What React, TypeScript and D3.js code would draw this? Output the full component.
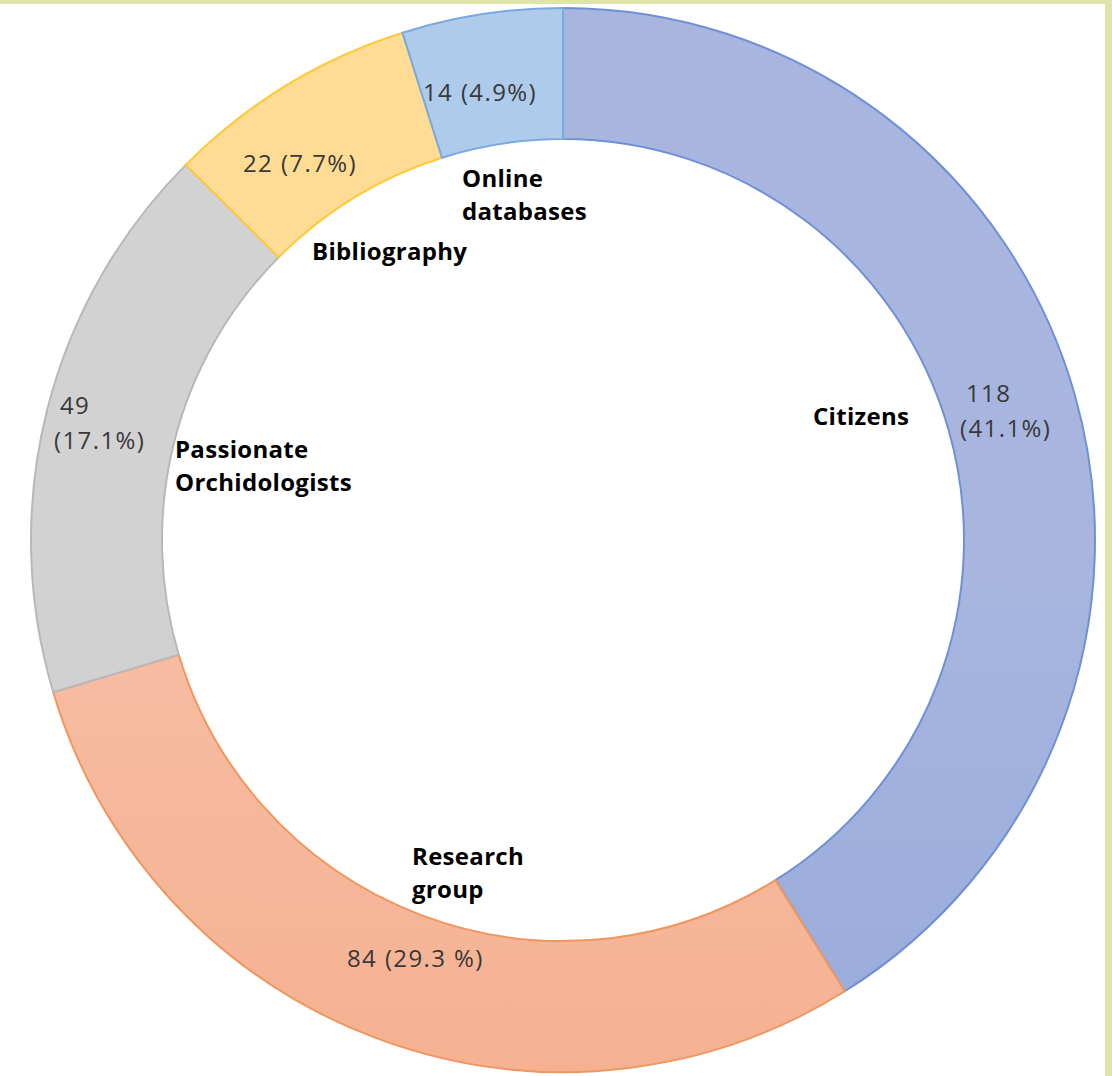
import React, { useEffect, useRef } from "react"
import * as d3 from "d3"

const WIDTH = 1112
const HEIGHT = 1076
const CX = 563
const CY = 540
const OUTER_R = 532
const INNER_R = 401

// data
const categories = ["Citizens", "Research group", "Passionate Orchidologists", "Bibliography", "Online databases"]
const counts = [118, 84, 49, 22, 14]
const percentLabels = ["41.1%", "29.3 %", "17.1%", "7.7%", "4.9%"]

// label layout (offsets from the donut centre, text-anchor start, baseline)
const nameLines = [["Citizens"], ["Research", "group"], ["Passionate", "Orchidologists"], ["Bibliography"], ["Online", "databases"]]
const nameAnchors = [[250, -115], [-151, 325], [-388, -82], [-251, -280], [-101, -353]]
const valueSplit = [true, false, true, false, false]
const valueAnchors = [[397, -138], [-216, 427], [-509, -126], [-320, -368], [-140, -439]]

const fills = [
  ["#a8b6df", "#8aa0d8"],
  ["#f6bea5", "#f4a57f"],
  ["#d2d2d2", "#c3c3c3"],
  ["#fedc94", "#fed487"],
  ["#aecbeb", "#9dc1e7"],
]
const strokes = ["#6f90d6", "#f0965f", "#b8b8b8", "#ffc93a", "#79a9df"]

const App = () => {
  const svgRef = useRef<SVGSVGElement>(null)

  useEffect(() => {
    const svg = d3.select(svgRef.current)
    svg.selectAll("*").remove()

    svg.append("rect").attr("width", WIDTH).attr("height", HEIGHT).attr("fill", "#fff")
    // frame edges
    svg.append("rect").attr("x", 0).attr("y", 0).attr("width", WIDTH).attr("height", 4).attr("fill", "#dfe5a8")
    svg.append("rect").attr("x", 1105).attr("y", 0).attr("width", 7).attr("height", HEIGHT).attr("fill", "#dfe5a8")

    const defs = svg.append("defs")
    fills.forEach((f, i) => {
      const g = defs.append("linearGradient")
        .attr("id", `slice-grad-${i}`)
        .attr("gradientUnits", "userSpaceOnUse")
        .attr("x1", 0).attr("y1", CY - OUTER_R)
        .attr("x2", 0).attr("y2", CY + OUTER_R)
      g.append("stop").attr("offset", "0%").attr("stop-color", f[0])
      g.append("stop").attr("offset", "100%").attr("stop-color", f[1])
    })

    const pie = d3.pie<number>().sort(null).value((d) => d)
    const arcs = pie(counts)
    const arc = d3.arc<d3.PieArcDatum<number>>().innerRadius(INNER_R).outerRadius(OUTER_R)

    const chartG = svg.append("g").attr("transform", `translate(${CX},${CY})`)

    chartG.selectAll("path.slice")
      .data(arcs)
      .join("path")
      .attr("class", "slice")
      .attr("d", arc)
      .attr("fill", (_, i) => `url(#slice-grad-${i})`)
      .attr("stroke", (_, i) => strokes[i])
      .attr("stroke-width", 2)

    const fontFamily = "'Open Sans', Lato, sans-serif"

    // category names
    categories.forEach((_, i) => {
      const [dx, dy] = nameAnchors[i]
      const t = chartG.append("text")
        .attr("x", dx).attr("y", dy)
        .attr("font-family", fontFamily)
        .attr("font-weight", "bold")
        .attr("font-size", 24)
        .attr("letter-spacing", 0.3)
        .attr("fill", "#000")
      nameLines[i].forEach((line, j) => {
        t.append("tspan").attr("x", dx).attr("dy", j === 0 ? 0 : 33).text(line)
      })
    })

    // value labels
    counts.forEach((c, i) => {
      const [dx, dy] = valueAnchors[i]
      const t = chartG.append("text")
        .attr("x", dx).attr("y", dy)
        .attr("font-family", fontFamily)
        .attr("font-size", 24)
        .attr("letter-spacing", 1.4)
        .attr("fill", "#383838")
      if (valueSplit[i]) {
        t.append("tspan").attr("x", dx + 6).text(`${c}`)
        t.append("tspan").attr("x", dx).attr("dy", 35).text(`(${percentLabels[i]})`)
      } else {
        t.text(`${c} (${percentLabels[i]})`)
      }
    })
  }, [])

  return (
    <div style={{ position: "absolute", left: 0, top: 0, width: WIDTH, height: HEIGHT }}>
      <svg ref={svgRef} width={WIDTH} height={HEIGHT} style={{ display: "block" }}></svg>
    </div>
  )
}

export default App
